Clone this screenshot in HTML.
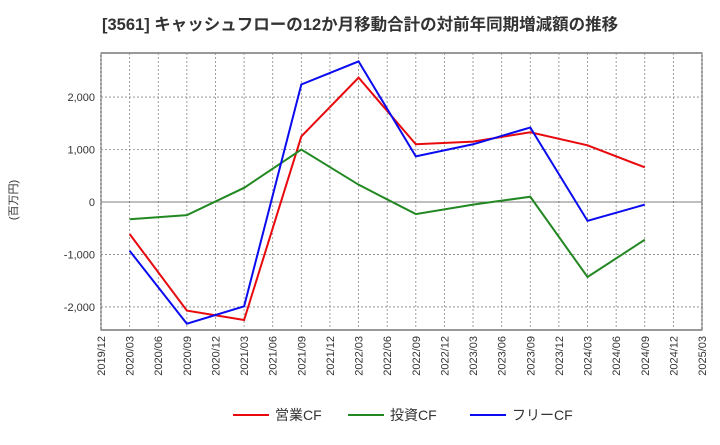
<!DOCTYPE html>
<html><head><meta charset="utf-8"><style>
body{margin:0;background:#fff;font-family:"Liberation Sans","Noto Sans CJK JP",sans-serif;}
svg text{font-family:"Liberation Sans","Noto Sans CJK JP",sans-serif;}
</style></head><body>
<svg id="c" width="720" height="440" xmlns="http://www.w3.org/2000/svg">
<text x="102" y="30" font-size="16.5" font-weight="bold" fill="#333">[3561]  キャッシュフローの12か月移動合計の対前年同期増減額の推移</text>
<text transform="translate(17,200) rotate(-90)" font-size="11" fill="#333" text-anchor="middle">(百万円)</text>
<g id="grid"></g><g id="axes"></g><g id="series"></g><g id="legend"></g>
</svg>
<script>
const categories=["2019/12","2020/03","2020/06","2020/09","2020/12","2021/03","2021/06","2021/09","2021/12","2022/03","2022/06","2022/09","2022/12","2023/03","2023/06","2023/09","2023/12","2024/03","2024/06","2024/09","2024/12","2025/03"];
const pointDates=["2020/03","2020/09","2021/03","2021/09","2022/03","2022/09","2023/03","2023/09","2024/03","2024/09"];
const operatingCF=[-610,-2070,-2250,1250,2370,1100,1150,1330,1080,660];
const investingCF=[-330,-250,270,1000,330,-230,-50,100,-1430,-720];
const freeCF=[-930,-2320,-1990,2240,2680,870,1100,1420,-360,-50];
const yTicks=[-2000,-1000,0,1000,2000];
const yTickLabels=["-2,000","-1,000","0","1,000","2,000"];
const seriesNames=["営業CF","投資CF","フリーCF"];
const ns="http://www.w3.org/2000/svg";
const L=101,R=702,T=53,B=330,yMin=-2440,yMax=2840;
const x=i=>L+(R-L)*i/(categories.length-1);
const y=v=>B-(v-yMin)/(yMax-yMin)*(B-T);
function mk(tag,attrs,parent){const e=document.createElementNS(ns,tag);for(const k in attrs)e.setAttribute(k,attrs[k]);parent.appendChild(e);return e;}
const grid=document.getElementById('grid'),axes=document.getElementById('axes'),series=document.getElementById('series'),legend=document.getElementById('legend');
let bg=mk('rect',{x:L,y:T,width:R-L,height:B-T,fill:'#fff',stroke:'#333','stroke-width':1},grid);


categories.forEach((c,i)=>{
 const gl=mk('line',{x1:x(i),x2:x(i),y1:T,y2:B,stroke:'#888','stroke-dasharray':'2,2','stroke-width':0.8},grid);
 
 
 const t=mk('text',{transform:`translate(${x(i)+4},${B+6}) rotate(-90)`,'font-size':11,fill:'#333','text-anchor':'end'},axes);
 t.textContent=c;
 
 
});
yTicks.forEach((v,i)=>{
 const gl=mk('line',{x1:L,x2:R,y1:y(v),y2:y(v),stroke:v===0?'#555':'#888','stroke-dasharray':v===0?'':'2,2','stroke-width':0.8},grid);
 
 
 const t=mk('text',{x:L-6,y:y(v)+4,'font-size':11,fill:'#333','text-anchor':'end'},axes);
 t.textContent=yTickLabels[i];
 
 
});
const colors=["#e8090d","#228822","#0b0bf0"];
[operatingCF,investingCF,freeCF].forEach((d,s)=>{
 const pts=d.map((v,i)=>x(categories.indexOf(pointDates[i]))+','+y(v)).join(' ');
 const pl=mk('polyline',{points:pts,fill:'none',stroke:colors[s],'stroke-width':2},series);
 
 
 const lx=[233,348,470][s];
 const ll=mk('line',{x1:lx,x2:lx+36,y1:415,y2:415,stroke:colors[s],'stroke-width':2},legend);
 
 
 const lt=mk('text',{x:lx+42,y:420,'font-size':14,fill:'#333'},legend);
 lt.textContent=seriesNames[s];
 
 
});
</script>
</body></html>
